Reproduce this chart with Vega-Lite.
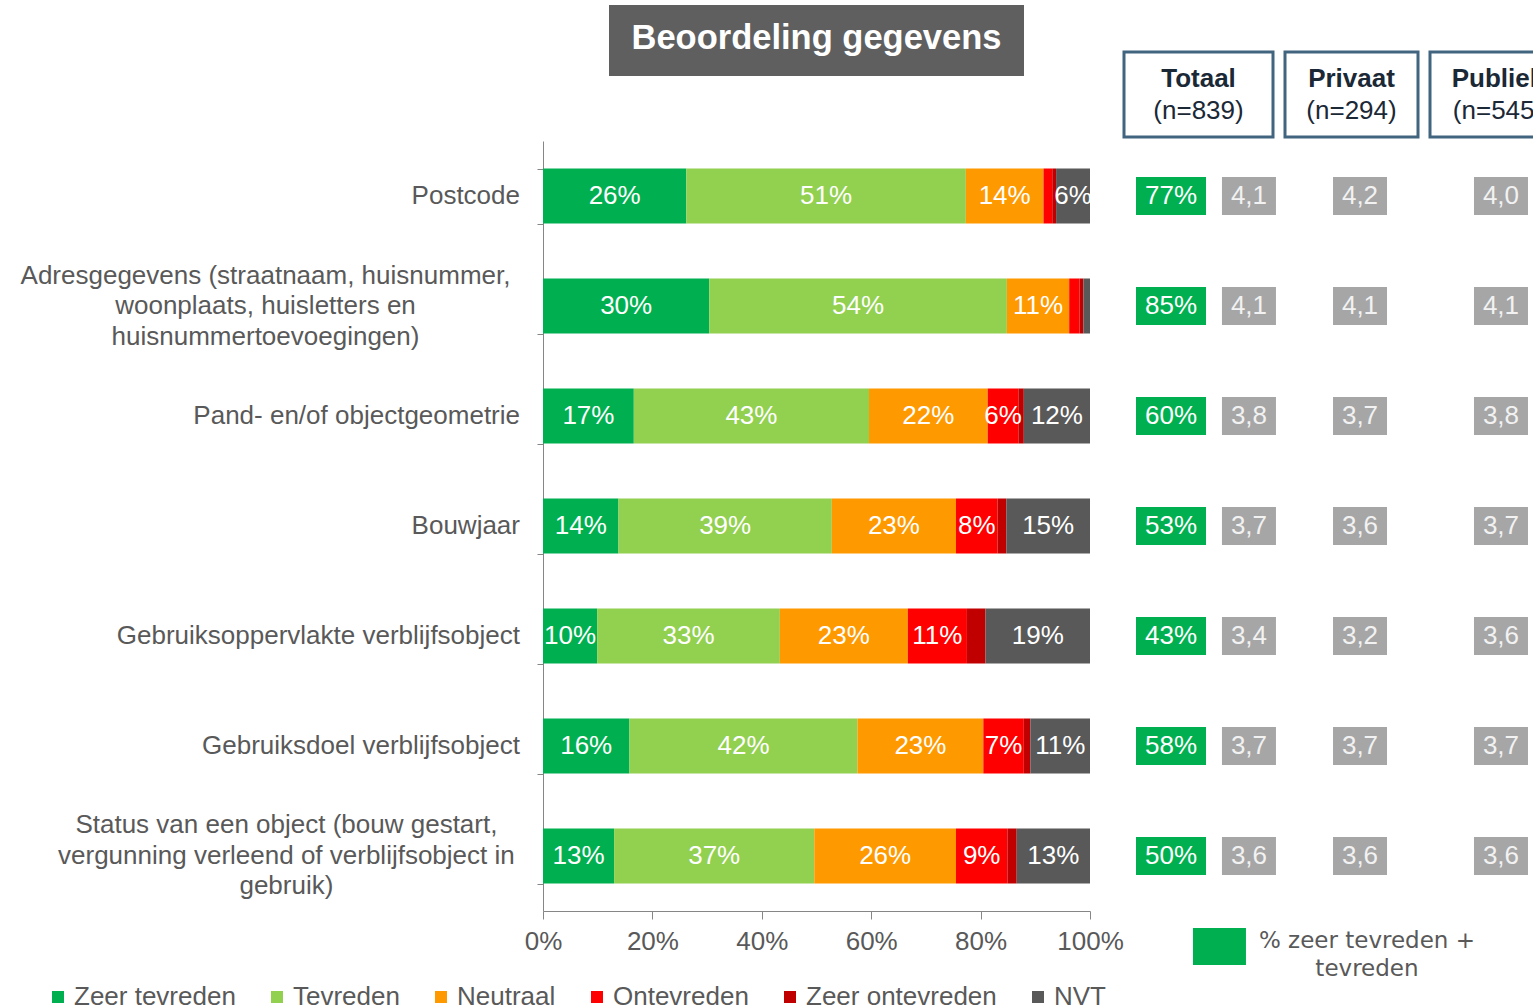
{
  "$schema": "https://vega.github.io/schema/vega-lite/v6.json",
  "padding": {"left": 20, "top": 5, "right": 0, "bottom": 0},
  "config": {
    "font": "Liberation Sans",
    "view": {"stroke": null}
  },
  "datasets": {
    "bars": [
      {"cat": "Postcode", "resp": "Zeer tevreden", "k": 1, "v": 0.262},
      {"cat": "Postcode", "resp": "Tevreden", "k": 2, "v": 0.511},
      {"cat": "Postcode", "resp": "Neutraal", "k": 3, "v": 0.142},
      {"cat": "Postcode", "resp": "Ontevreden", "k": 4, "v": 0.016},
      {"cat": "Postcode", "resp": "Zeer ontevreden", "k": 5, "v": 0.007},
      {"cat": "Postcode", "resp": "NVT", "k": 6, "v": 0.062},
      {"cat": "Adresgegevens (straatnaam, huisnummer, woonplaats, huisletters en huisnummertoevoegingen)", "resp": "Zeer tevreden", "k": 1, "v": 0.304},
      {"cat": "Adresgegevens (straatnaam, huisnummer, woonplaats, huisletters en huisnummertoevoegingen)", "resp": "Tevreden", "k": 2, "v": 0.544},
      {"cat": "Adresgegevens (straatnaam, huisnummer, woonplaats, huisletters en huisnummertoevoegingen)", "resp": "Neutraal", "k": 3, "v": 0.114},
      {"cat": "Adresgegevens (straatnaam, huisnummer, woonplaats, huisletters en huisnummertoevoegingen)", "resp": "Ontevreden", "k": 4, "v": 0.019},
      {"cat": "Adresgegevens (straatnaam, huisnummer, woonplaats, huisletters en huisnummertoevoegingen)", "resp": "Zeer ontevreden", "k": 5, "v": 0.007},
      {"cat": "Adresgegevens (straatnaam, huisnummer, woonplaats, huisletters en huisnummertoevoegingen)", "resp": "NVT", "k": 6, "v": 0.012},
      {"cat": "Pand- en/of objectgeometrie", "resp": "Zeer tevreden", "k": 1, "v": 0.166},
      {"cat": "Pand- en/of objectgeometrie", "resp": "Tevreden", "k": 2, "v": 0.430},
      {"cat": "Pand- en/of objectgeometrie", "resp": "Neutraal", "k": 3, "v": 0.217},
      {"cat": "Pand- en/of objectgeometrie", "resp": "Ontevreden", "k": 4, "v": 0.056},
      {"cat": "Pand- en/of objectgeometrie", "resp": "Zeer ontevreden", "k": 5, "v": 0.010},
      {"cat": "Pand- en/of objectgeometrie", "resp": "NVT", "k": 6, "v": 0.121},
      {"cat": "Bouwjaar", "resp": "Zeer tevreden", "k": 1, "v": 0.138},
      {"cat": "Bouwjaar", "resp": "Tevreden", "k": 2, "v": 0.390},
      {"cat": "Bouwjaar", "resp": "Neutraal", "k": 3, "v": 0.227},
      {"cat": "Bouwjaar", "resp": "Ontevreden", "k": 4, "v": 0.076},
      {"cat": "Bouwjaar", "resp": "Zeer ontevreden", "k": 5, "v": 0.016},
      {"cat": "Bouwjaar", "resp": "NVT", "k": 6, "v": 0.153},
      {"cat": "Gebruiksoppervlakte verblijfsobject", "resp": "Zeer tevreden", "k": 1, "v": 0.099},
      {"cat": "Gebruiksoppervlakte verblijfsobject", "resp": "Tevreden", "k": 2, "v": 0.334},
      {"cat": "Gebruiksoppervlakte verblijfsobject", "resp": "Neutraal", "k": 3, "v": 0.234},
      {"cat": "Gebruiksoppervlakte verblijfsobject", "resp": "Ontevreden", "k": 4, "v": 0.108},
      {"cat": "Gebruiksoppervlakte verblijfsobject", "resp": "Zeer ontevreden", "k": 5, "v": 0.034},
      {"cat": "Gebruiksoppervlakte verblijfsobject", "resp": "NVT", "k": 6, "v": 0.191},
      {"cat": "Gebruiksdoel verblijfsobject", "resp": "Zeer tevreden", "k": 1, "v": 0.158},
      {"cat": "Gebruiksdoel verblijfsobject", "resp": "Tevreden", "k": 2, "v": 0.417},
      {"cat": "Gebruiksdoel verblijfsobject", "resp": "Neutraal", "k": 3, "v": 0.230},
      {"cat": "Gebruiksdoel verblijfsobject", "resp": "Ontevreden", "k": 4, "v": 0.074},
      {"cat": "Gebruiksdoel verblijfsobject", "resp": "Zeer ontevreden", "k": 5, "v": 0.012},
      {"cat": "Gebruiksdoel verblijfsobject", "resp": "NVT", "k": 6, "v": 0.109},
      {"cat": "Status van een object (bouw gestart, vergunning verleend of verblijfsobject in gebruik)", "resp": "Zeer tevreden", "k": 1, "v": 0.130},
      {"cat": "Status van een object (bouw gestart, vergunning verleend of verblijfsobject in gebruik)", "resp": "Tevreden", "k": 2, "v": 0.366},
      {"cat": "Status van een object (bouw gestart, vergunning verleend of verblijfsobject in gebruik)", "resp": "Neutraal", "k": 3, "v": 0.259},
      {"cat": "Status van een object (bouw gestart, vergunning verleend of verblijfsobject in gebruik)", "resp": "Ontevreden", "k": 4, "v": 0.094},
      {"cat": "Status van een object (bouw gestart, vergunning verleend of verblijfsobject in gebruik)", "resp": "Zeer ontevreden", "k": 5, "v": 0.017},
      {"cat": "Status van een object (bouw gestart, vergunning verleend of verblijfsobject in gebruik)", "resp": "NVT", "k": 6, "v": 0.134}
    ],
    "right": [
      {"cat": "Postcode", "col": "pct", "v": 0.77},
      {"cat": "Adresgegevens (straatnaam, huisnummer, woonplaats, huisletters en huisnummertoevoegingen)", "col": "pct", "v": 0.85},
      {"cat": "Pand- en/of objectgeometrie", "col": "pct", "v": 0.60},
      {"cat": "Bouwjaar", "col": "pct", "v": 0.53},
      {"cat": "Gebruiksoppervlakte verblijfsobject", "col": "pct", "v": 0.43},
      {"cat": "Gebruiksdoel verblijfsobject", "col": "pct", "v": 0.58},
      {"cat": "Status van een object (bouw gestart, vergunning verleend of verblijfsobject in gebruik)", "col": "pct", "v": 0.50},
      {"cat": "Postcode", "col": "Totaal", "v": 4.1},
      {"cat": "Adresgegevens (straatnaam, huisnummer, woonplaats, huisletters en huisnummertoevoegingen)", "col": "Totaal", "v": 4.1},
      {"cat": "Pand- en/of objectgeometrie", "col": "Totaal", "v": 3.8},
      {"cat": "Bouwjaar", "col": "Totaal", "v": 3.7},
      {"cat": "Gebruiksoppervlakte verblijfsobject", "col": "Totaal", "v": 3.4},
      {"cat": "Gebruiksdoel verblijfsobject", "col": "Totaal", "v": 3.7},
      {"cat": "Status van een object (bouw gestart, vergunning verleend of verblijfsobject in gebruik)", "col": "Totaal", "v": 3.6},
      {"cat": "Postcode", "col": "Privaat", "v": 4.2},
      {"cat": "Adresgegevens (straatnaam, huisnummer, woonplaats, huisletters en huisnummertoevoegingen)", "col": "Privaat", "v": 4.1},
      {"cat": "Pand- en/of objectgeometrie", "col": "Privaat", "v": 3.7},
      {"cat": "Bouwjaar", "col": "Privaat", "v": 3.6},
      {"cat": "Gebruiksoppervlakte verblijfsobject", "col": "Privaat", "v": 3.2},
      {"cat": "Gebruiksdoel verblijfsobject", "col": "Privaat", "v": 3.7},
      {"cat": "Status van een object (bouw gestart, vergunning verleend of verblijfsobject in gebruik)", "col": "Privaat", "v": 3.6},
      {"cat": "Postcode", "col": "Publiek", "v": 4.0},
      {"cat": "Adresgegevens (straatnaam, huisnummer, woonplaats, huisletters en huisnummertoevoegingen)", "col": "Publiek", "v": 4.1},
      {"cat": "Pand- en/of objectgeometrie", "col": "Publiek", "v": 3.8},
      {"cat": "Bouwjaar", "col": "Publiek", "v": 3.7},
      {"cat": "Gebruiksoppervlakte verblijfsobject", "col": "Publiek", "v": 3.6},
      {"cat": "Gebruiksdoel verblijfsobject", "col": "Publiek", "v": 3.7},
      {"cat": "Status van een object (bouw gestart, vergunning verleend of verblijfsobject in gebruik)", "col": "Publiek", "v": 3.6}
    ]
  },
  "spacing": -27,
  "hconcat": [
    {
      "vconcat": [
        {
          "width": 415, "height": 71,
          "view": {"fill": "#5f5f5f", "stroke": null},
          "data": {"values": [{"t": "Beoordeling gegevens"}]},
          "mark": {"type": "text", "color": "white", "fontSize": 34.5, "fontWeight": "bold", "dy": -2},
          "encoding": {"text": {"field": "t"}}
        },
        {
          "width": 547, "height": 770,
          "data": {"name": "bars"},
          "encoding": {
            "y": {
              "field": "cat", "type": "nominal",
              "sort": ["Postcode", "Adresgegevens (straatnaam, huisnummer, woonplaats, huisletters en huisnummertoevoegingen)", "Pand- en/of objectgeometrie", "Bouwjaar", "Gebruiksoppervlakte verblijfsobject", "Gebruiksdoel verblijfsobject", "Status van een object (bouw gestart, vergunning verleend of verblijfsobject in gebruik)"],
              "scale": {"paddingInner": 0.5, "paddingOuter": 0.25},
              "axis": {"title": null, "labels": false, "tickBand": "extent", "tickSize": 6, "tickColor": "#868686", "domainColor": "#868686"}
            }
          },
          "layer": [
            {
              "mark": {"type": "bar"},
              "encoding": {
                "x": {
                  "field": "v", "type": "quantitative", "stack": "zero",
                  "scale": {"domain": [0, 1], "nice": false},
                  "axis": {"title": null, "format": ".0%", "values": [0, 0.2, 0.4, 0.6, 0.8, 1], "grid": false, "labelFlush": false, "tickSize": 8, "tickColor": "#868686", "domainColor": "#868686", "labelFontSize": 26, "labelColor": "#595959", "labelPadding": 9}
                },
                "color": {
                  "field": "resp", "type": "nominal",
                  "scale": {"domain": ["Zeer tevreden", "Tevreden", "Neutraal", "Ontevreden", "Zeer ontevreden", "NVT"], "range": ["#00b050", "#92d050", "#ff9900", "#ff0000", "#c00000", "#595959"]},
                  "legend": {"title": null, "orient": "none", "legendX": -498, "legendY": 979, "direction": "horizontal", "columns": 6, "gridAlign": "none", "columnPadding": 28, "symbolType": "square", "symbolSize": 144, "symbolStrokeWidth": 0, "labelFontSize": 26, "labelColor": "#595959", "labelOffset": 3, "labelLimit": 400}
                },
                "order": {"field": "k", "type": "quantitative"}
              }
            },
            {
              "mark": {"type": "text", "color": "white", "fontSize": 26},
              "encoding": {
                "x": {"field": "v", "type": "quantitative", "stack": "zero", "bandPosition": 0.5},
                "detail": {"field": "resp", "type": "nominal"},
                "order": {"field": "k", "type": "quantitative"},
                "text": {"condition": {"test": "datum.v < 0.05", "value": ""}, "field": "v", "type": "quantitative", "format": ".0%"}
              }
            },
            {
              "data": {"values": [
                {"cat": "Postcode", "label": "Postcode"},
                {"cat": "Pand- en/of objectgeometrie", "label": "Pand- en/of objectgeometrie"},
                {"cat": "Bouwjaar", "label": "Bouwjaar"},
                {"cat": "Gebruiksoppervlakte verblijfsobject", "label": "Gebruiksoppervlakte verblijfsobject"},
                {"cat": "Gebruiksdoel verblijfsobject", "label": "Gebruiksdoel verblijfsobject"}
              ]},
              "mark": {"type": "text", "align": "right", "dx": -23, "fontSize": 26, "color": "#595959"},
              "encoding": {"x": {"datum": 0, "type": "quantitative"}, "text": {"field": "label"}}
            },
            {
              "data": {"values": [
                {"cat": "Adresgegevens (straatnaam, huisnummer, woonplaats, huisletters en huisnummertoevoegingen)", "label": "Adresgegevens (straatnaam, huisnummer,\nwoonplaats, huisletters en\nhuisnummertoevoegingen)"}
              ]},
              "mark": {"type": "text", "align": "center", "dx": -277.5, "dy": -30.5, "fontSize": 26, "color": "#595959", "lineBreak": "\n", "lineHeight": 30.5},
              "encoding": {"x": {"datum": 0, "type": "quantitative"}, "text": {"field": "label"}}
            },
            {
              "data": {"values": [
                {"cat": "Status van een object (bouw gestart, vergunning verleend of verblijfsobject in gebruik)", "label": "Status van een object (bouw gestart,\nvergunning verleend of verblijfsobject in\ngebruik)"}
              ]},
              "mark": {"type": "text", "align": "center", "dx": -256.6, "dy": -31, "fontSize": 26, "color": "#595959", "lineBreak": "\n", "lineHeight": 30.5},
              "encoding": {"x": {"datum": 0, "type": "quantitative"}, "text": {"field": "label"}}
            }
          ]
        }
      ],
      "spacing": 65,
      "bounds": "flush",
      "center": true
    },
    {
      "hconcat": [
        {
          "width": 149, "height": 1016,
          "layer": [
            {
              "data": {"values": [{"h": "Totaal", "n": "(n=839)"}]},
              "mark": {"type": "rect", "fill": "white", "stroke": "#41657e", "strokeWidth": 3, "height": 85, "yOffset": 8.5},
              "encoding": {"y": {"datum": "hdr", "type": "nominal", "axis": null, "scale": {"domain": ["hdr", "Postcode", "Adresgegevens (straatnaam, huisnummer, woonplaats, huisletters en huisnummertoevoegingen)", "Pand- en/of objectgeometrie", "Bouwjaar", "Gebruiksoppervlakte verblijfsobject", "Gebruiksdoel verblijfsobject", "Status van een object (bouw gestart, vergunning verleend of verblijfsobject in gebruik)", "leg"], "paddingInner": 0, "paddingOuter": 0.118, "align": 1}}}
            },
            {
              "data": {"values": [{"h": "Totaal", "n": "(n=839)"}]},
              "mark": {"type": "text", "fontSize": 26, "fontWeight": "bold", "color": "#1b2836", "dy": -7},
              "encoding": {"y": {"datum": "hdr", "type": "nominal"}, "text": {"field": "h"}}
            },
            {
              "data": {"values": [{"h": "Totaal", "n": "(n=839)"}]},
              "mark": {"type": "text", "fontSize": 26, "color": "#1b2836", "dy": 25},
              "encoding": {"y": {"datum": "hdr", "type": "nominal"}, "text": {"field": "n"}}
            },
            {
              "data": {"name": "right"},
              "transform": [{"filter": "datum.col == 'pct'"}],
              "mark": {"type": "rect", "width": 70, "height": 38, "fill": "#00b050"},
              "encoding": {
                "x": {"field": "col", "type": "nominal", "axis": null, "scale": {"domain": ["pct", "Totaal"], "paddingInner": 0.487, "paddingOuter": 0.199, "align": 0.87}},
                "y": {"field": "cat", "type": "nominal"}
              }
            },
            {
              "data": {"name": "right"},
              "transform": [{"filter": "datum.col == 'pct'"}],
              "mark": {"type": "text", "color": "white", "fontSize": 26},
              "encoding": {
                "x": {"field": "col", "type": "nominal"},
                "y": {"field": "cat", "type": "nominal"},
                "text": {"field": "v", "type": "quantitative", "format": ".0%"}
              }
            },
            {
              "data": {"name": "right"},
              "transform": [{"filter": "datum.col == 'Totaal'"}],
              "mark": {"type": "rect", "width": 54, "height": 38, "fill": "#a6a6a6"},
              "encoding": {
                "x": {"field": "col", "type": "nominal"},
                "y": {"field": "cat", "type": "nominal"}
              }
            },
            {
              "data": {"name": "right"},
              "transform": [{"filter": "datum.col == 'Totaal'"}, {"calculate": "replace(format(datum.v, '.1f'), '.', ',')", "as": "s"}],
              "mark": {"type": "text", "color": "#f2f2f2", "fontSize": 26},
              "encoding": {
                "x": {"field": "col", "type": "nominal"},
                "y": {"field": "cat", "type": "nominal"},
                "text": {"field": "s"}
              }
            },
            {
              "data": {"values": [{"t": "% zeer tevreden +\ntevreden"}]},
              "mark": {"type": "rect", "width": 53, "height": 37, "fill": "#00b050", "xOffset": -29.5, "yOffset": -19.5},
              "encoding": {"x": {"datum": "Totaal", "type": "nominal"}, "y": {"datum": "leg", "type": "nominal"}}
            },
            {
              "data": {"values": [{"t": "% zeer tevreden +\ntevreden"}]},
              "mark": {"type": "text", "align": "center", "dx": 118, "dy": -25, "lineBreak": "\n", "lineHeight": 28, "font": "DejaVu Sans", "fontSize": 23, "color": "#595959"},
              "encoding": {"x": {"datum": "Totaal", "type": "nominal"}, "y": {"datum": "leg", "type": "nominal"}, "text": {"field": "t"}}
            }
          ]
        },
        {
          "width": 133, "height": 1016,
          "layer": [
            {
              "data": {"values": [{"h": "Privaat", "n": "(n=294)"}]},
              "mark": {"type": "rect", "fill": "white", "stroke": "#41657e", "strokeWidth": 3, "height": 85, "yOffset": 8.5},
              "encoding": {"y": {"datum": "hdr", "type": "nominal", "axis": null, "scale": {"domain": ["hdr", "Postcode", "Adresgegevens (straatnaam, huisnummer, woonplaats, huisletters en huisnummertoevoegingen)", "Pand- en/of objectgeometrie", "Bouwjaar", "Gebruiksoppervlakte verblijfsobject", "Gebruiksdoel verblijfsobject", "Status van een object (bouw gestart, vergunning verleend of verblijfsobject in gebruik)", "leg"], "paddingInner": 0, "paddingOuter": 0.118, "align": 1}}}
            },
            {
              "data": {"values": [{"h": "Privaat", "n": "(n=294)"}]},
              "mark": {"type": "text", "fontSize": 26, "fontWeight": "bold", "color": "#1b2836", "dy": -7},
              "encoding": {"y": {"datum": "hdr", "type": "nominal"}, "text": {"field": "h"}}
            },
            {
              "data": {"values": [{"h": "Privaat", "n": "(n=294)"}]},
              "mark": {"type": "text", "fontSize": 26, "color": "#1b2836", "dy": 25},
              "encoding": {"y": {"datum": "hdr", "type": "nominal"}, "text": {"field": "n"}}
            },
            {
              "data": {"name": "right"},
              "transform": [{"filter": "datum.col == 'Privaat'"}],
              "mark": {"type": "rect", "width": 54, "height": 38, "fill": "#a6a6a6"},
              "encoding": {
                "x": {"field": "col", "type": "nominal", "axis": null, "scale": {"domain": ["Privaat"], "paddingInner": 0, "paddingOuter": 0.5, "align": 0.628}},
                "y": {"field": "cat", "type": "nominal"}
              }
            },
            {
              "data": {"name": "right"},
              "transform": [{"filter": "datum.col == 'Privaat'"}, {"calculate": "replace(format(datum.v, '.1f'), '.', ',')", "as": "s"}],
              "mark": {"type": "text", "color": "#f2f2f2", "fontSize": 26},
              "encoding": {
                "x": {"field": "col", "type": "nominal"},
                "y": {"field": "cat", "type": "nominal"},
                "text": {"field": "s"}
              }
            }
          ]
        },
        {
          "width": 136, "height": 1016,
          "layer": [
            {
              "data": {"values": [{"h": "Publiek", "n": "(n=545)"}]},
              "mark": {"type": "rect", "fill": "white", "stroke": "#41657e", "strokeWidth": 3, "height": 85, "yOffset": 8.5},
              "encoding": {"y": {"datum": "hdr", "type": "nominal", "axis": null, "scale": {"domain": ["hdr", "Postcode", "Adresgegevens (straatnaam, huisnummer, woonplaats, huisletters en huisnummertoevoegingen)", "Pand- en/of objectgeometrie", "Bouwjaar", "Gebruiksoppervlakte verblijfsobject", "Gebruiksdoel verblijfsobject", "Status van een object (bouw gestart, vergunning verleend of verblijfsobject in gebruik)", "leg"], "paddingInner": 0, "paddingOuter": 0.118, "align": 1}}}
            },
            {
              "data": {"values": [{"h": "Publiek", "n": "(n=545)"}]},
              "mark": {"type": "text", "fontSize": 26, "fontWeight": "bold", "color": "#1b2836", "dy": -7},
              "encoding": {"y": {"datum": "hdr", "type": "nominal"}, "text": {"field": "h"}}
            },
            {
              "data": {"values": [{"h": "Publiek", "n": "(n=545)"}]},
              "mark": {"type": "text", "fontSize": 26, "color": "#1b2836", "dy": 25},
              "encoding": {"y": {"datum": "hdr", "type": "nominal"}, "text": {"field": "n"}}
            },
            {
              "data": {"name": "right"},
              "transform": [{"filter": "datum.col == 'Publiek'"}],
              "mark": {"type": "rect", "width": 54, "height": 38, "fill": "#a6a6a6"},
              "encoding": {
                "x": {"field": "col", "type": "nominal", "axis": null, "scale": {"domain": ["Publiek"], "paddingInner": 0, "paddingOuter": 0.5, "align": 0.544}},
                "y": {"field": "cat", "type": "nominal"}
              }
            },
            {
              "data": {"name": "right"},
              "transform": [{"filter": "datum.col == 'Publiek'"}, {"calculate": "replace(format(datum.v, '.1f'), '.', ',')", "as": "s"}],
              "mark": {"type": "text", "color": "#f2f2f2", "fontSize": 26},
              "encoding": {
                "x": {"field": "col", "type": "nominal"},
                "y": {"field": "cat", "type": "nominal"},
                "text": {"field": "s"}
              }
            }
          ]
        }
      ],
      "spacing": 12,
      "bounds": "flush"
    }
  ]
}
